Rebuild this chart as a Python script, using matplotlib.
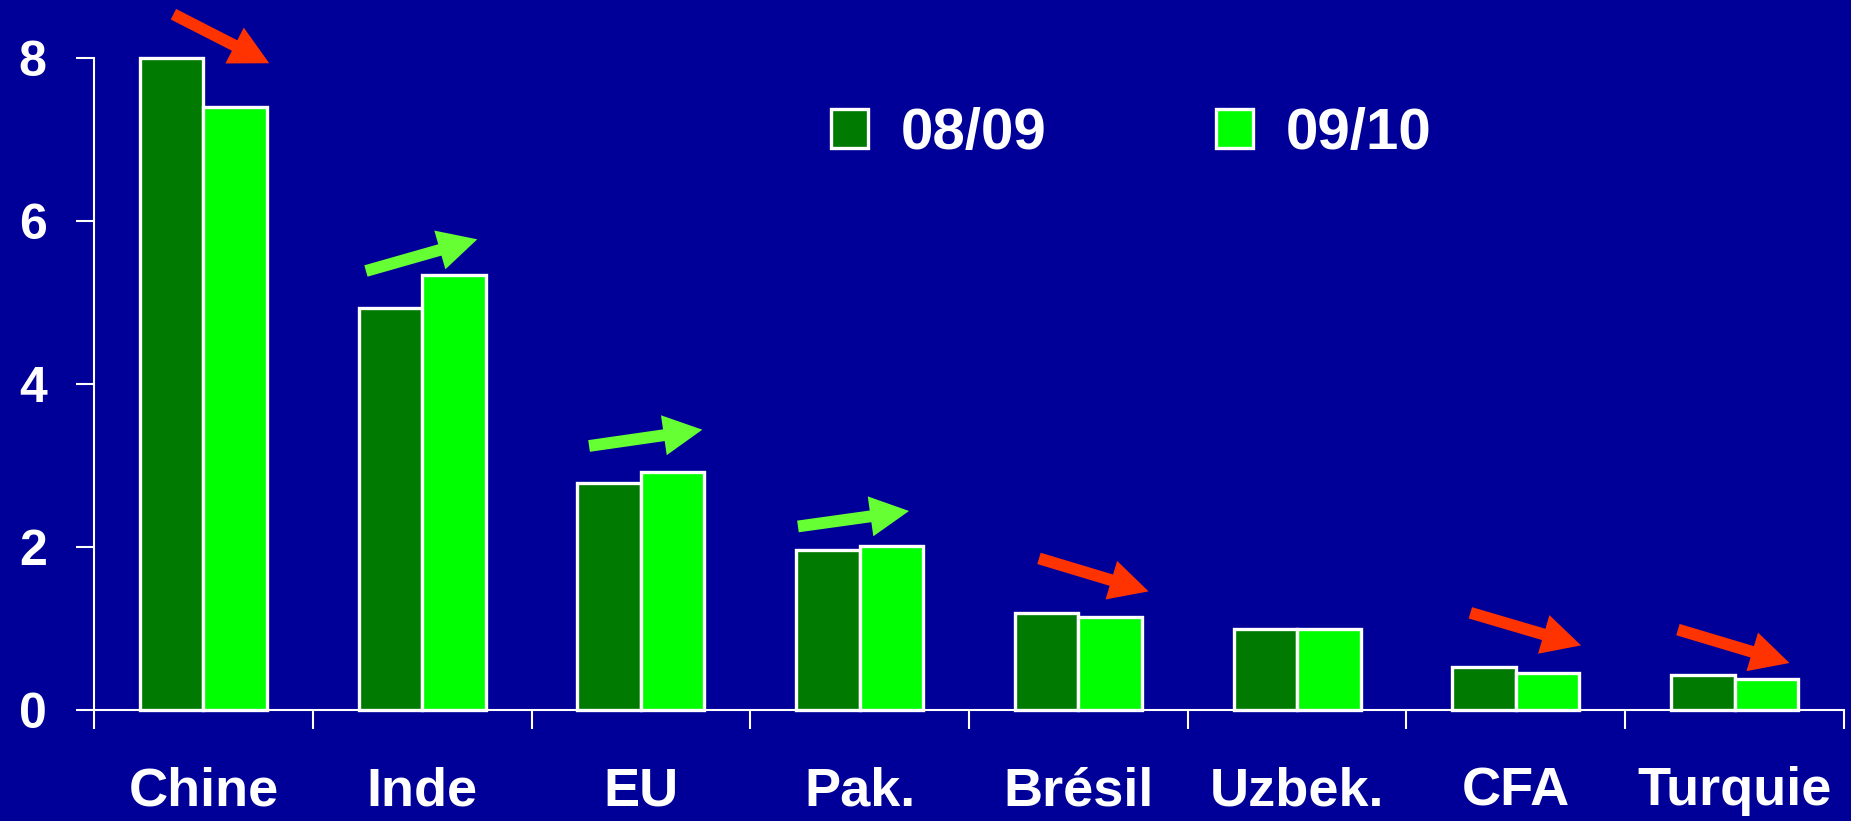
import numpy as np
import matplotlib
matplotlib.use('Agg')
import matplotlib.pyplot as plt

plt.rcParams['font.family'] = ['Liberation Sans', 'DejaVu Sans']
plt.rcParams['font.weight'] = 'bold'

# data
categories = ['Chine', 'Inde', 'EU', 'Pak.', 'Brésil', 'Uzbek.', 'CFA', 'Turquie']
v0809 = [8.0, 4.93, 2.78, 1.96, 1.19, 0.99, 0.52, 0.42]
v0910 = [7.4, 5.33, 2.91, 2.01, 1.13, 0.99, 0.45, 0.38]
series_labels = ['08/09', '09/10']

# arrow layout (start/end, x relative to category centre, y in data units)
arrow_dx0 = [-0.137, -0.257, -0.237, -0.282, -0.180, None, -0.208, -0.259]
arrow_y0 = [8.535, 5.383, 3.235, 2.247, 1.855, None, 1.187, 0.981]
arrow_dx1 = [0.301, 0.252, 0.281, 0.226, 0.321, None, 0.298, 0.251]
arrow_y1 = [7.933, 5.772, 3.435, 2.437, 1.450, None, 0.787, 0.571]

bg = '#000099'
dark = '#007A00'
light = '#00FF00'
up_col = '#66FF33'
down_col = '#FF3300'

fig = plt.figure(figsize=(18.51, 8.21), dpi=100, facecolor=bg)
ax = fig.add_axes([0.0508, 0.1358, 0.9454, 0.7938])
ax.set_facecolor(bg)

x = np.arange(len(categories))
w = 0.29
ax.bar(x - w/2, v0809, w, color=dark, edgecolor='white', linewidth=2.4,
       label=series_labels[0], clip_on=False, zorder=3)
ax.bar(x + w/2, v0910, w, color=light, edgecolor='white', linewidth=2.4,
       label=series_labels[1], clip_on=False, zorder=3)

for i in range(len(categories)):
    if arrow_y0[i] is None:
        continue
    col = up_col if v0910[i] > v0809[i] else down_col
    ax.annotate('', xy=(i + arrow_dx1[i], arrow_y1[i]),
                xytext=(i + arrow_dx0[i], arrow_y0[i]),
                annotation_clip=False,
                arrowprops=dict(arrowstyle='simple,head_length=2.8,head_width=2.9,tail_width=0.85',
                                mutation_scale=10, color=col, shrinkA=0, shrinkB=0, lw=0))

ax.set_xlim(-0.5, 7.5)
ax.set_ylim(0, 8)
for s in ['top', 'right']:
    ax.spines[s].set_visible(False)
for s in ['left', 'bottom']:
    ax.spines[s].set_color('white')
    ax.spines[s].set_linewidth(1.5)

ax.set_yticks([0, 2, 4, 6, 8])
ax.tick_params(axis='y', colors='white', length=13, width=1.5, pad=21, labelsize=36)

ax.set_xticks(np.arange(-0.5, 8, 1))
ax.set_xticklabels([])
ax.tick_params(axis='x', which='major', length=14, width=1.5, color='white')
ax.set_xticks(x, minor=True)
ax.set_xticklabels(categories, minor=True)
ax.tick_params(axis='x', which='minor', length=0, pad=41, labelsize=39, labelcolor='white')

leg = ax.legend(loc='center left', bbox_to_anchor=(802/1851, 1 - 134/821),
                bbox_transform=fig.transFigure, ncol=2, frameon=False, borderpad=0,
                handlelength=0.63, handleheight=0.65, handletextpad=0.57,
                columnspacing=2.9, prop={'size': 42, 'weight': 'bold'}, labelcolor='white')

fig.savefig('out.png', dpi=100, facecolor=bg)
